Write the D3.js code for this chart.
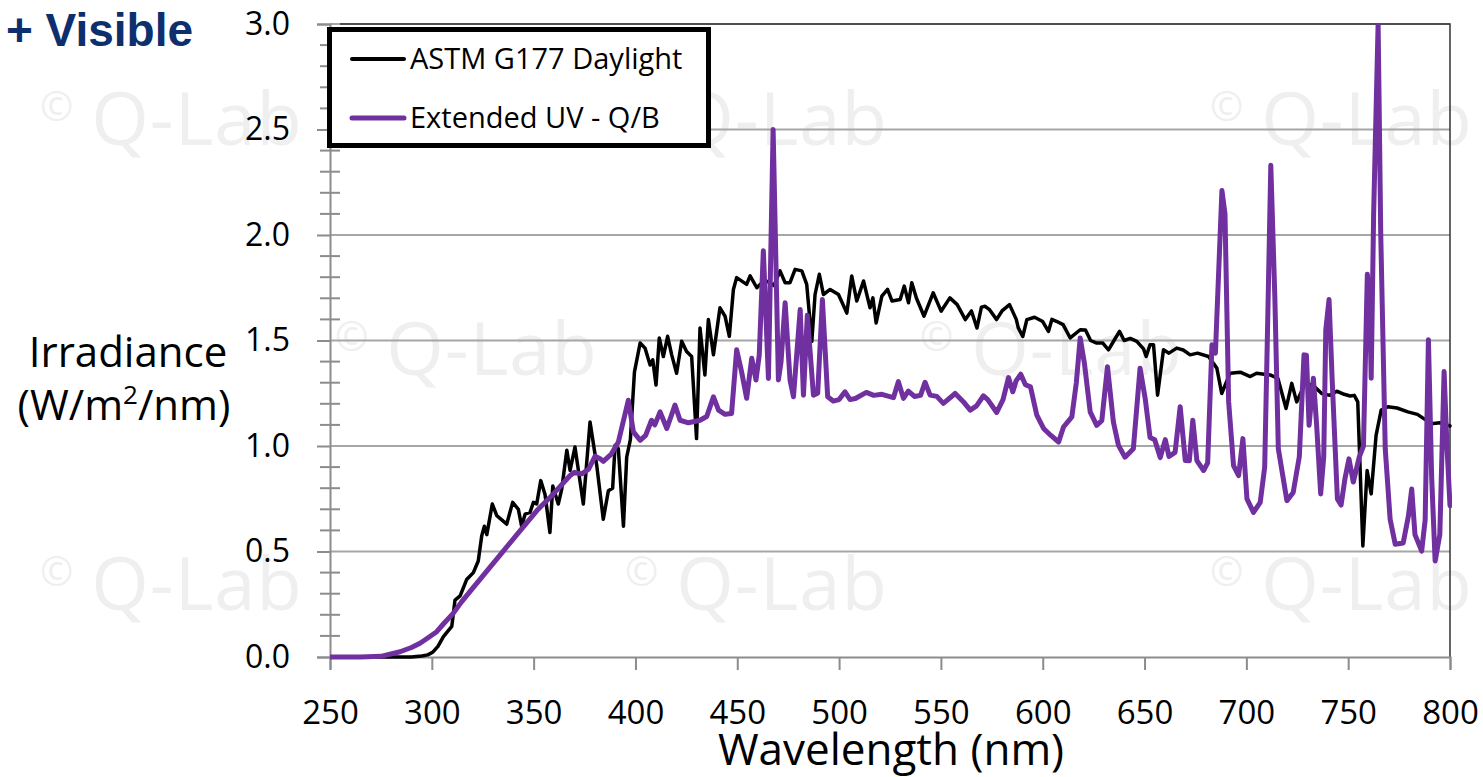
<!DOCTYPE html>
<html>
<head>
<meta charset="utf-8">
<script src="https://cdn.jsdelivr.net/npm/d3@7"></script>
<style>
  body { margin: 0; background: #fff; }
  svg { display: block; font-family: "Open Sans", "Noto Sans", sans-serif; }
</style>
</head>
<body>
<div class="chart"></div>
<script>
const width = 1483;
const height = 777;

// ASTM G177 daylight
const daylightNm = [250, 280, 290, 295, 298, 300.6, 303, 305.7, 309.8, 311.4, 313.9, 317.1, 320.4, 322.8, 324.5, 325.8, 327, 329.7, 331.9, 336.8,
  339.7, 342.5, 344.1, 345.8, 348.2, 349.9, 351.5, 353.5, 355.6, 358, 359.4, 362.1, 363.8, 366.3, 367.9, 370.3, 374.4, 377.7, 381, 384.2,
  386.7, 388.8, 390, 391.6, 394.1, 395.7, 397.5, 399.5, 402.3, 404.7, 407.2, 408.5, 410.1, 411.7, 413.7, 415.8, 417.8, 420.2, 422.7, 425.1,
  427.6, 430, 431.7, 434.1, 435.8, 438.3, 441.5, 444, 446.1, 448.1, 449.7, 454.6, 456.3, 459.6, 461.2, 465, 468, 471, 473.5, 475.9,
  478.4, 481.7, 484.1, 486.6, 488.2, 490.3, 492.3, 495.6, 499.7, 503.8, 506.2, 508.7, 512, 515.2, 516.6, 518.2, 521, 523.8, 526, 530,
  532, 534.1, 535.7, 538, 541.7, 546.2, 550.1, 554.4, 558, 562, 565, 567.7, 569.9, 571.7, 574, 577.3, 580, 583.7, 587, 588,
  590.2, 592.2, 596, 600, 602.8, 604.5, 607, 610, 613.5, 618.4, 621, 623.5, 626.5, 629.5, 632.3, 635, 637.7, 640, 643, 646.2,
  649.5, 650.8, 652.7, 654.4, 656.4, 659.3, 662, 665.8, 669, 672.4, 676, 681.4, 685.5, 687.9, 692, 697, 701.9, 705, 711.7, 715.5,
  719.5, 722.3, 724.7, 729, 733, 737, 741, 744.4, 748, 751, 753, 754.7, 757.2, 759.3, 761.3, 763.7, 766.2, 769.5, 774, 779.3,
  784, 790.8, 795, 800];
const daylightVal = [0, 0, 0, 0.005, 0.01, 0.024, 0.05, 0.097, 0.145, 0.27, 0.29, 0.367, 0.40, 0.455, 0.574, 0.62, 0.58, 0.725, 0.67, 0.63,
  0.733, 0.70, 0.62, 0.677, 0.685, 0.733, 0.725, 0.836, 0.77, 0.59, 0.81, 0.725, 0.796, 0.98, 0.884, 0.995, 0.725, 1.114, 0.907, 0.653,
  0.788, 0.80, 1.003, 0.987, 0.62, 0.947, 1.03, 1.35, 1.488, 1.464, 1.384, 1.408, 1.289, 1.512, 1.424, 1.52, 1.432, 1.345, 1.496, 1.448,
  1.424, 1.035, 1.559, 1.337, 1.599, 1.432, 1.655, 1.615, 1.52, 1.742, 1.798, 1.766, 1.806, 1.75, 1.766, 1.78, 1.76, 1.83, 1.774, 1.774,
  1.837, 1.83, 1.766, 1.496, 1.718, 1.814, 1.718, 1.742, 1.718, 1.63, 1.806, 1.687, 1.782, 1.655, 1.702, 1.583, 1.71, 1.742, 1.687, 1.694,
  1.758, 1.679, 1.774, 1.70, 1.615, 1.726, 1.639, 1.702, 1.67, 1.599, 1.64, 1.559, 1.658, 1.662, 1.645, 1.599, 1.64, 1.67, 1.60, 1.56,
  1.519, 1.599, 1.61, 1.59, 1.543, 1.60, 1.59, 1.575, 1.512, 1.551, 1.55, 1.50, 1.488, 1.488, 1.456, 1.50, 1.543, 1.50, 1.51, 1.496,
  1.46, 1.424, 1.48, 1.48, 1.241, 1.456, 1.44, 1.464, 1.455, 1.432, 1.44, 1.424, 1.369, 1.249, 1.345, 1.35, 1.329, 1.345, 1.337, 1.32,
  1.178, 1.297, 1.209, 1.30, 1.285, 1.249, 1.24, 1.26, 1.245, 1.237, 1.24, 1.209, 0.526, 0.884, 0.773, 1.05, 1.17, 1.186, 1.18, 1.162,
  1.15, 1.106, 1.11, 1.095];

// Extended UV - Q/B lamp
const lampNm = [250, 265, 275, 284.4, 290, 294.2, 298, 302.4, 306, 310.6, 314.5, 318.8, 327, 335.1, 343.3, 351.5, 359.7, 367.9, 370, 373.6,
  377, 380.2, 382.6, 384.2, 388, 391.6, 396.5, 399, 402.3, 405, 407.9, 409.5, 412.1, 415.4, 419.4, 421.9, 426, 431.7, 435, 438.3,
  440.8, 444, 447.2, 449.7, 452.1, 454.6, 457.1, 459.2, 460.8, 462.8, 465.3, 467.6, 470.2, 471.5, 473.5, 475.9, 477.6, 480.9, 482.5, 484.4,
  487.4, 489.5, 491.8, 494.4, 497.1, 500, 502.9, 505.4, 508, 513.4, 517, 521, 526.7, 529.1, 531.6, 534, 537, 540, 542.2, 544.7,
  548, 551.2, 557, 561, 564.4, 567.5, 570.9, 573, 577.4, 580.5, 583.2, 585.3, 587, 589.2, 591.5, 594, 597.1, 600.4, 604, 607.8,
  610.2, 614.3, 616.5, 618.4, 620.5, 623.3, 626.5, 629, 631.8, 634.7, 637.2, 640.4, 644.5, 647.8, 650.3, 652.7, 655, 657.7, 660.2, 662,
  665, 667.5, 670, 672, 673.7, 675.7, 679, 681, 683.1, 684.8, 688, 689.5, 691.3, 693.7, 696.2, 698.3, 700.3, 703.5, 706.8, 709,
  710.5, 712, 714, 715.7, 719.9, 723, 726, 728.3, 729.5, 730.8, 732.9, 734.5, 736.5, 738, 739, 740.6, 742.2, 744.7, 746.5, 748.5,
  750.4, 752.5, 755.5, 757.5, 759.4, 760.5, 761.3, 762.5, 764.7, 766, 768.2, 770.6, 773.1, 777, 779.6, 781.2, 782.8, 786.1, 787.8, 789.4,
  791, 792.7, 795, 797.1, 798.5, 800];
const lampVal = [0, 0, 0.003, 0.025, 0.045, 0.065, 0.09, 0.12, 0.16, 0.208, 0.26, 0.311, 0.407, 0.502, 0.598, 0.693, 0.773, 0.86, 0.875, 0.868,
  0.89, 0.952, 0.94, 0.927, 0.96, 1.019, 1.217, 1.067, 1.027, 1.05, 1.122, 1.10, 1.162, 1.083, 1.194, 1.122, 1.11, 1.122, 1.14, 1.233,
  1.17, 1.15, 1.154, 1.456, 1.353, 1.226, 1.416, 1.313, 1.432, 1.925, 1.32, 2.50, 1.313, 1.40, 1.679, 1.313, 1.233, 1.647, 1.241, 1.62,
  1.241, 1.25, 1.694, 1.233, 1.213, 1.22, 1.257, 1.22, 1.225, 1.254, 1.24, 1.245, 1.229, 1.305, 1.226, 1.26, 1.235, 1.24, 1.302, 1.241,
  1.235, 1.202, 1.249, 1.21, 1.17, 1.19, 1.238, 1.22, 1.159, 1.22, 1.324, 1.257, 1.31, 1.34, 1.29, 1.28, 1.146, 1.083, 1.05, 1.019,
  1.09, 1.138, 1.30, 1.512, 1.39, 1.162, 1.098, 1.12, 1.376, 1.114, 1.003, 0.947, 0.987, 1.369, 1.226, 1.04, 1.03, 0.945, 1.03, 0.95,
  0.97, 1.186, 0.931, 0.93, 1.122, 0.931, 0.884, 0.92, 1.48, 1.44, 2.211, 2.10, 1.209, 0.907, 0.86, 1.035, 0.749, 0.685, 0.733, 0.90,
  1.60, 2.33, 1.70, 0.987, 0.741, 0.78, 0.95, 1.432, 1.43, 1.098, 1.321, 1.10, 0.773, 0.95, 1.55, 1.694, 1.30, 0.749, 0.72, 0.85,
  0.939, 0.829, 0.95, 1.0, 1.814, 1.70, 1.321, 2.10, 3.0, 2.0, 0.987, 0.653, 0.534, 0.54, 0.669, 0.796, 0.58, 0.502, 0.65, 1.504,
  0.85, 0.455, 0.58, 1.353, 1.0, 0.717];

const xTicks = [250, 300, 350, 400, 450, 500, 550, 600, 650, 700, 750, 800];
const yTicks = [0, 0.5, 1.0, 1.5, 2.0, 2.5, 3.0];
const seriesNames = ['ASTM G177 Daylight', 'Extended UV - Q/B'];
const seriesColors = ['#000000', '#7030a0'];

const svg = d3.select('.chart').append('svg')
    .attr('width', width)
    .attr('height', height)
    .attr('viewBox', `0 0 ${width} ${height}`);

svg.append('rect').attr('width', width).attr('height', height).attr('fill', '#fff');

const x = d3.scaleLinear().domain([250, 800]).range([330, 1450]);
const y = d3.scaleLinear().domain([0, 3]).range([657, 24]);

/* watermark */
const marks = [[40, 145], [625, 145], [1210, 145], [335, 375], [920, 375], [40, 610], [625, 610], [1210, 610]];
marks.forEach(m => {
    const t = svg.append('text')
        .attr('x', m[0]).attr('y', m[1])
        .attr('font-size', 74)
        .attr('fill', '#efefef');
    t.append('tspan').attr('font-size', 40).attr('dy', -24).text('©');
    t.append('tspan').attr('dx', 18).attr('dy', 24).attr('letter-spacing', 1).text('Q-Lab');
});

/* gridlines */
svg.append('g')
    .selectAll('line')
    .data(yTicks.slice(1))
    .enter().append('line')
    .attr('x1', x(250)).attr('x2', x(800))
    .attr('y1', d => y(d)).attr('y2', d => y(d))
    .attr('stroke', '#a6a6a6')
    .attr('stroke-width', 2);

// plot border (top + right)
svg.append('path')
    .attr('d', `M${x(250) + 10},${y(3)}H${x(800)}V${y(0)}`)
    .attr('fill', 'none')
    .attr('stroke', '#333')
    .attr('stroke-width', 1.5);

/* minor y ticks (cross) */
svg.append('g')
    .selectAll('line')
    .data(d3.range(1, 30).filter(i => i % 5 != 0).map(i => i / 10))
    .enter().append('line')
    .attr('x1', 320).attr('x2', 340)
    .attr('y1', d => y(d)).attr('y2', d => y(d))
    .attr('stroke', '#8c8c8c')
    .attr('stroke-width', 2);

/* y axis */
const yAxis = svg.append('g')
    .attr('transform', `translate(${x(250)},0)`)
    .call(d3.axisLeft(y).tickValues(yTicks).tickSize(13).tickPadding(27).tickFormat(d3.format('.1f')));
yAxis.select('.domain').attr('stroke', '#8c8c8c').attr('stroke-width', 2);
yAxis.selectAll('.tick line').attr('stroke', '#8c8c8c').attr('stroke-width', 2);
yAxis.selectAll('.tick text')
    .attr('font-size', 32)
    .attr('font-family', '"Open Sans", sans-serif')
    .attr('fill', '#000');

/* x axis */
const xAxis = svg.append('g')
    .attr('transform', `translate(0,${y(0)})`)
    .call(d3.axisBottom(x).tickValues(xTicks).tickSize(13).tickPadding(31));
xAxis.select('.domain').attr('stroke', '#8c8c8c').attr('stroke-width', 2);
xAxis.selectAll('.tick line').attr('stroke', '#8c8c8c').attr('stroke-width', 2);
xAxis.selectAll('.tick text')
    .attr('font-size', 33)
    .attr('font-family', '"Open Sans", sans-serif')
    .attr('fill', '#000');

/* lines */
svg.append('clipPath').attr('id', 'plotclip')
    .append('rect').attr('x', x(250)).attr('y', y(3) - 1).attr('width', x(800) - x(250) + 2).attr('height', y(0) - y(3) + 4);

const line = d3.line()
    .x(d => x(d[0]))
    .y(d => y(d[1]));

const series = [
    d3.zip(daylightNm, daylightVal),
    d3.zip(lampNm, lampVal)
];
const widths = [3.5, 5];

svg.append('g').attr('clip-path', 'url(#plotclip)')
    .selectAll('path')
    .data(series)
    .enter().append('path')
    .attr('d', line)
    .attr('fill', 'none')
    .attr('stroke', (d, i) => seriesColors[i])
    .attr('stroke-width', (d, i) => widths[i])
    .attr('stroke-linejoin', 'round')
    .attr('stroke-linecap', 'round');

/* legend */
const legend = svg.append('g');
legend.append('rect')
    .attr('x', 329.5).attr('y', 29.5)
    .attr('width', 379).attr('height', 116)
    .attr('fill', '#fff')
    .attr('stroke', '#000')
    .attr('stroke-width', 5);
seriesNames.forEach((name, i) => {
    const ly = 59 + i * 59;
    legend.append('line')
        .attr('x1', 352).attr('x2', 404)
        .attr('y1', ly).attr('y2', ly)
        .attr('stroke', seriesColors[i])
        .attr('stroke-width', i == 0 ? 4 : 5)
        .attr('stroke-linecap', 'round');
    legend.append('text')
        .attr('x', 410).attr('y', ly + 10)
        .attr('font-size', 29)
        .attr('fill', '#000')
        .text(name);
});

/* axis titles */
svg.append('text')
    .attr('x', 128).attr('y', 367)
    .attr('text-anchor', 'middle')
    .attr('font-size', 42)
    .text('Irradiance');
const unit = svg.append('text')
    .attr('x', 124).attr('y', 420)
    .attr('text-anchor', 'middle')
    .attr('font-size', 42);
unit.append('tspan').text('(W/m');
unit.append('tspan').attr('font-size', 26).attr('dy', -16).text('2');
unit.append('tspan').attr('dy', 16).text('/nm)');

svg.append('text')
    .attr('x', 891).attr('y', 765)
    .attr('text-anchor', 'middle')
    .attr('font-size', 44)
    .text('Wavelength (nm)');

/* clipped header */
svg.append('text')
    .attr('x', 193).attr('y', 46)
    .attr('text-anchor', 'end')
    .attr('font-family', '"Liberation Sans", Arial, sans-serif')
    .attr('font-weight', 'bold')
    .attr('font-size', 46)
    .attr('fill', '#0d2f6e')
    .text('+ Visible');
</script>
</body>
</html>
